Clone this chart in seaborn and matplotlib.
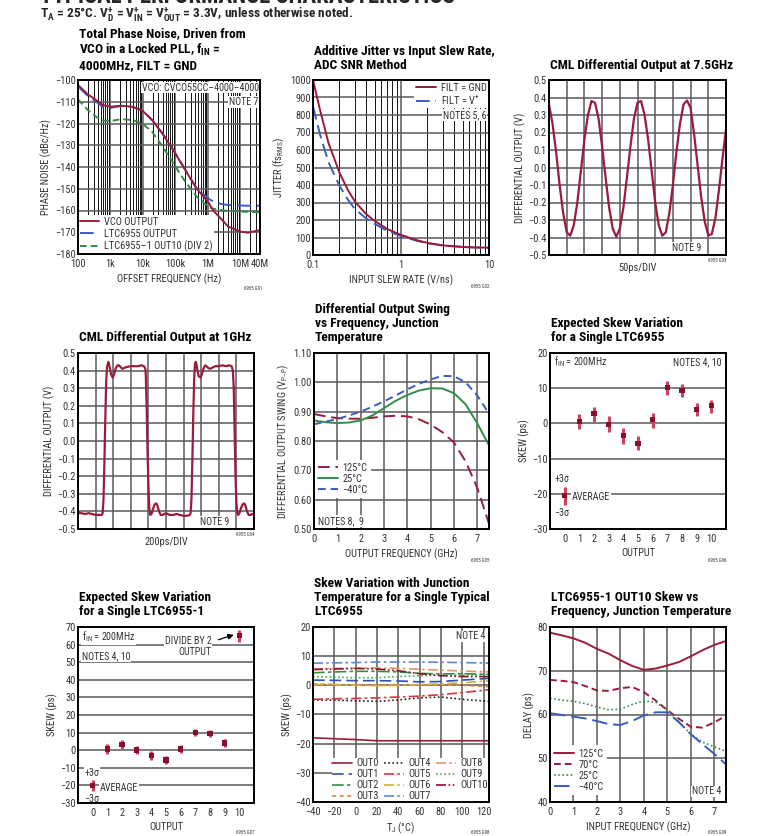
import matplotlib
matplotlib.use("Agg")
import matplotlib.pyplot as plt
import matplotlib.ticker as mticker
from matplotlib import font_manager
import seaborn as sns

# ---------------- data ----------------
# G01 total phase noise
pn_freq = [100, 200, 360, 580, 1e3, 2.1e3, 4.7e3, 9.6e3, 1.9e4, 3.9e4, 9.2e4, 2e5,
           4.5e5, 1e6, 1.45e6, 2.6e6, 4.2e6, 1e7, 1.7e7, 4e7]
pn_vco = [-102.3, -106.6, -109.2, -111.5, -112.3, -111.8, -112.3, -114.1, -118.4, -124.5,
          -133.0, -141.4, -150.0, -155.9, -160.0, -164.0, -167.4, -169.7, -170.2, -169.0]
pn_ltc = [-103.0, -107.3, -110.0, -112.3, -112.8, -112.0, -112.3, -114.0, -118.3, -124.3,
          -132.8, -141.2, -149.8, -154.4, -155.9, -157.0, -157.5, -157.7, -157.8, -157.8]
pn_div2 = [-108.9, -113.8, -116.9, -118.6, -118.9, -118.0, -118.4, -120.0, -123.8, -130.3,
           -139.0, -146.7, -153.6, -158.2, -159.2, -159.8, -160.2, -160.5, -160.6, -160.8]

# G02 additive jitter
slew = [0.1, 0.12, 0.15, 0.2, 0.25, 0.3, 0.4, 0.5, 0.7, 1, 1.5, 2, 3, 5, 7, 10]
jit_gnd = [1000, 830, 640, 470, 370, 305, 235, 195, 148, 115, 85, 69, 55, 46, 43, 42]
jit_vp = [850, 690, 530, 395, 315, 262, 210, 178, 138, 108, 82, 67, 54, 46, 43, 42]

# G03 7.5GHz waveform (ps, V)
t75 = list(range(0, 501, 10))
v75 = [0.36, 0.25, 0.09, -0.10, -0.26, -0.37, -0.39, -0.33, -0.20, -0.02,
       0.16, 0.30, 0.38, 0.37, 0.28, 0.12, -0.06, -0.23, -0.35, -0.395,
       -0.35, -0.23, -0.06, 0.12, 0.28, 0.37, 0.38, 0.30, 0.16, -0.02,
       -0.20, -0.33, -0.39, -0.37, -0.26, -0.10, 0.09, 0.25, 0.36, 0.383,
       0.34, 0.19, 0.01, -0.17, -0.31, -0.388, -0.38, -0.29, -0.13, 0.05, 0.22]

# G04 1GHz waveform (ps, V)
t1g = [0, 20, 40, 80, 120, 160, 200, 240, 270, 280, 290, 300, 310, 320, 330, 345, 360,
       375, 395, 410, 430, 450, 465, 485, 505, 525, 550, 600, 640, 680, 720, 750, 765,
       770, 780, 790, 800, 810, 820, 835, 850, 870, 890, 905, 920, 940, 960, 980, 1000,
       1040, 1080, 1120, 1160, 1200, 1240, 1270, 1280, 1290, 1300, 1310, 1320, 1330, 1340,
       1355, 1370, 1390, 1405, 1425, 1445, 1460, 1480, 1500, 1520, 1560, 1600, 1640, 1680,
       1720, 1745, 1760, 1770, 1780, 1790, 1800, 1810, 1820, 1835, 1850, 1870, 1890, 1905,
       1920, 1940, 1960, 1980, 2000]
v1g = [-0.40, -0.41, -0.41, -0.415, -0.41, -0.415, -0.42, -0.42, -0.42, -0.41, -0.33,
       -0.12, 0.12, 0.33, 0.42, 0.45, 0.42, 0.38, 0.36, 0.38, 0.415, 0.43, 0.43, 0.42,
       0.41, 0.415, 0.42, 0.425, 0.425, 0.425, 0.43, 0.425, 0.41, 0.38, 0.20, -0.05,
       -0.25, -0.38, -0.42, -0.415, -0.39, -0.36, -0.355, -0.37, -0.40, -0.42, -0.42,
       -0.415, -0.41, -0.42, -0.42, -0.415, -0.42, -0.425, -0.425, -0.42, -0.41, -0.32,
       -0.10, 0.15, 0.35, 0.44, 0.45, 0.41, 0.37, 0.36, 0.375, 0.41, 0.43, 0.425, 0.415,
       0.41, 0.415, 0.425, 0.425, 0.43, 0.425, 0.43, 0.425, 0.40, 0.30, 0.05, -0.20,
       -0.35, -0.41, -0.42, -0.41, -0.385, -0.36, -0.355, -0.37, -0.40, -0.42, -0.42,
       -0.415, -0.42]

# G05 output swing vs frequency
sw_freq = [0, 0.5, 1, 1.5, 2, 2.5, 3, 3.5, 4, 4.5, 5, 5.5, 6, 6.5, 7, 7.5]
sw_125 = [0.892, 0.884, 0.878, 0.876, 0.876, 0.879, 0.884, 0.886, 0.884, 0.874, 0.856,
          0.830, 0.795, 0.730, 0.640, 0.518]
sw_25 = [0.870, 0.864, 0.861, 0.863, 0.870, 0.887, 0.912, 0.937, 0.957, 0.972, 0.980,
         0.979, 0.963, 0.925, 0.860, 0.785]
sw_m40 = [0.857, 0.866, 0.875, 0.887, 0.900, 0.917, 0.935, 0.955, 0.976, 0.995, 1.010,
          1.022, 1.021, 1.000, 0.955, 0.893]

# G06 / G07 skew per output (average, +3 sigma, -3 sigma)
outputs = list(range(11))
sk_avg = [-20.4, 0.6, 2.7, -0.2, -3.5, -5.6, 1.1, 10.1, 9.3, 3.9, 5.0]
sk_hi = [-18.2, 2.8, 4.8, 2.2, -1.3, -3.7, 3.0, 12.0, 11.3, 5.8, 6.7]
sk_lo = [-23.1, -1.5, 0.4, -2.4, -5.8, -7.6, -1.3, 8.0, 7.4, 2.0, 3.0]
sk1_avg = [-20.0, 0.7, 3.1, 0.1, -3.1, -5.6, 0.7, 10.2, 9.4, 4.1, 65.1]
sk1_hi = [-17.1, 3.4, 5.6, 2.6, -0.6, -3.3, 3.2, 12.2, 11.6, 6.2, 68.3]
sk1_lo = [-23.0, -2.0, 0.7, -2.4, -5.8, -7.8, -1.8, 8.1, 7.3, 2.0, 61.5]

# G08 skew vs junction temperature
tj = [-40, -20, 0, 20, 40, 60, 80, 100, 125]
out_skew = {
    "OUT0": [-18.0, -18.3, -18.6, -19.0, -19.0, -19.0, -19.0, -19.0, -19.0],
    "OUT1": [1.8, 1.7, 1.6, 1.6, 1.5, 1.2, 1.3, 1.8, 2.4],
    "OUT2": [4.3, 4.6, 4.8, 4.8, 4.6, 4.1, 3.9, 4.0, 3.8],
    "OUT3": [0.5, 0.3, 0.1, 0.0, 0.0, 0.1, 0.2, 0.0, -0.5],
    "OUT4": [-5.0, -5.1, -5.3, -5.5, -5.0, -4.3, -4.0, -4.8, -5.5],
    "OUT5": [-4.8, -4.6, -4.5, -4.3, -4.0, -3.7, -3.2, -2.5, -1.5],
    "OUT6": [0.3, 0.2, 0.0, -0.1, 0.0, 0.3, 0.5, 0.9, 1.5],
    "OUT7": [7.6, 7.7, 7.8, 8.0, 8.0, 8.0, 7.9, 7.8, 7.6],
    "OUT8": [5.6, 5.8, 5.9, 6.0, 5.8, 5.5, 5.2, 4.9, 4.6],
    "OUT9": [3.0, 2.8, 2.6, 2.6, 3.0, 3.3, 3.5, 3.5, 3.6],
    "OUT10": [5.4, 5.6, 5.8, 5.6, 5.0, 4.0, 3.3, 3.0, 3.0],
}

# G09 OUT10 delay vs frequency
dl_freq = [0, 0.5, 1, 1.5, 2, 2.5, 3, 3.5, 4, 4.5, 5, 5.5, 6, 6.5, 7, 7.5]
dl_125 = [78.7, 78.1, 77.4, 76.4, 75.0, 73.9, 72.4, 71.1, 70.2, 70.5, 71.2, 72.0, 73.3,
          74.7, 75.9, 76.8]
dl_70 = [67.9, 67.7, 67.4, 66.5, 65.5, 65.4, 66.0, 66.3, 65.1, 63.2, 61.0, 59.0, 57.2,
         57.0, 58.2, 59.7]
dl_25 = [63.7, 63.3, 63.0, 62.5, 61.7, 61.1, 61.2, 62.3, 63.1, 62.8, 61.0, 58.3, 55.5,
         53.7, 52.6, 51.6]
dl_m40 = [60.3, 59.9, 59.5, 59.1, 58.5, 57.8, 57.6, 58.5, 59.8, 60.5, 60.5, 58.2, 55.5,
          53.2, 51.0, 48.6]

# ---------------- style ----------------
sns.set_style("white")
fl = font_manager.fontManager.ttflist
names = {f.name for f in fl}
if "Liberation Sans Narrow" in names:
    FAM, STRETCH, K = "Liberation Sans Narrow", "normal", 1.0
elif "Roboto Condensed" in names:
    FAM, STRETCH, K = "Roboto Condensed", "normal", 1.0
elif any(f.name == "DejaVu Sans" and "condensed" in str(f.stretch) for f in fl):
    FAM, STRETCH, K = "DejaVu Sans", "condensed", 0.93
else:
    FAM, STRETCH, K = "Liberation Sans", "normal", 0.86
plt.rcParams["font.family"] = [FAM, "DejaVu Sans"]
plt.rcParams["font.stretch"] = STRETCH
plt.rcParams["axes.unicode_minus"] = True

RED = "#9b1b3a"
BLUE = "#3b5cc0"
GREEN = "#2f8f47"
GRID = "#5a5a5a"
TXT = "#333333"
FS = 7.5 * K     # ticks, axis labels, legends
NS = 7.2 * K     # notes inside the plots
TS = 9.6 * K     # chart titles

W, H = 764, 836
fig = plt.figure(figsize=(W / 100, H / 100), dpi=100)


def box(l, t, r, b):
    return fig.add_axes([l / W, 1 - b / H, (r - l) / W, (b - t) / H])


def frame(ax, gx=True, gy=True):
    for s in ax.spines.values():
        s.set_visible(True)
        s.set_linewidth(1.4)
        s.set_color("black")
        s.set_zorder(6)
    ax.tick_params(which="both", length=0, labelsize=FS, labelcolor=TXT)
    ax.tick_params(axis="x", pad=3.5)
    ax.tick_params(axis="y", pad=1.5)
    ax.set_axisbelow(True)
    if gx:
        ax.grid(True, axis="x", which="major", color=GRID, lw=1.1)
    if gy:
        ax.grid(True, axis="y", which="major", color=GRID, lw=1.1)
    ax.xaxis.label.set_color(TXT)
    ax.yaxis.label.set_color(TXT)
    ax.xaxis.label.set_size(FS)
    ax.yaxis.label.set_size(FS)


def title(ax, txt, bottom_px):
    fig.text(ax.get_position().x0 + 1 / W, 1 - bottom_px / H, txt, ha="left", va="bottom",
             fontsize=TS, fontweight="bold", linespacing=1.12, color="black")


def code(txt, x, y):
    fig.text(x / W, 1 - y / H, txt, ha="right", va="center", fontsize=3.5, color=TXT)


def note(ax, txt, x, y, ha="left", va="center", trans=True):
    ax.text(x, y, txt, transform=ax.transAxes if trans else ax.transData, ha=ha, va=va,
            fontsize=NS, color=TXT, bbox=dict(fc="white", ec="none", pad=0.6), zorder=4)


def fmt(d):
    def f(v, pos):
        s = f"{v:.{d}f}"
        if float(s) == 0:
            s = s.lstrip("-")
        return s.replace("-", "\u2212")
    return mticker.FuncFormatter(f)


def legend(ax, **kw):
    opts = dict(fontsize=FS, frameon=True, facecolor="white", edgecolor="none",
                framealpha=1, fancybox=False, labelcolor=TXT, borderpad=0.3,
                labelspacing=0.2, handlelength=1.9, handletextpad=0.45)
    opts.update(kw)
    return ax.legend(**opts)


# page header (cut off at the top) and conditions
fig.text(40 / W, 1 - 3 / H, "TYPICAL PERFORMANCE CHARACTERISTICS", ha="left", va="baseline",
         fontsize=16.5 * K, fontweight="bold")
fig.text(40 / W, 1 - 14.5 / H,
         r"T$_\mathregular{A}$ = 25°C. V$_\mathregular{D}^\mathregular{+}$ = "
         r"V$_\mathregular{IN}^\mathregular{+}$ = V$_\mathregular{OUT}^\mathregular{+}$ = 3.3V, "
         "unless otherwise noted.", ha="left", va="center", fontsize=TS, fontweight="bold")

# ---- G01 phase noise ----
ax = box(78, 80, 260, 254)
sns.lineplot(x=pn_freq, y=pn_vco, ax=ax, color=RED, lw=1.4, label="VCO OUTPUT", zorder=3)
sns.lineplot(x=pn_freq, y=pn_ltc, ax=ax, color=BLUE, lw=1.4, ls=(0, (7, 3)),
             label="LTC6955 OUTPUT", zorder=2)
sns.lineplot(x=pn_freq, y=pn_div2, ax=ax, color=GREEN, lw=1.4, ls=(0, (3.5, 2)),
             label="LTC6955\u20131 OUT10 (DIV 2)", zorder=2)
ax.set_xscale("log")
ax.set_xlim(100, 4e7)
ax.set_ylim(-180, -100)
ax.set_yticks(range(-180, -99, 10))
ax.set_xticks([1e2, 1e3, 1e4, 1e5, 1e6, 1e7, 4e7])
ax.set_xticklabels(["100", "1k", "10k", "100k", "1M", "10M", "40M"])
ax.xaxis.set_minor_locator(mticker.LogLocator(base=10, subs=range(2, 10), numticks=30))
ax.xaxis.set_minor_formatter(mticker.NullFormatter())
frame(ax)
ax.grid(True, axis="x", which="minor", color="#111111", lw=0.7)
ax.set_xlabel("OFFSET FREQUENCY (Hz)", labelpad=3)
ax.set_ylabel("PHASE NOISE (dBc/Hz)", labelpad=2)
legend(ax, loc="lower left", borderaxespad=0.0, borderpad=0.15)
note(ax, "VCO: CVCO55CC\u20134000\u20134000", 0.995, 0.985, ha="right", va="top")
note(ax, "NOTE 7", 0.99, 0.874, ha="right")
title(ax, "Total Phase Noise, Driven from\nVCO in a Locked PLL, f$_\\mathregular{IN}$ =\n"
          "4000MHz, FILT = GND", 72)
code("6955 G01", 262, 288)

# ---- G02 jitter ----
ax = box(313, 80, 489, 255)
sns.lineplot(x=slew, y=jit_gnd, ax=ax, color=RED, lw=1.4, label="FILT = GND", zorder=3)
sns.lineplot(x=slew, y=jit_vp, ax=ax, color=BLUE, lw=1.4, ls=(0, (7, 3)),
             label=r"FILT = V$^\mathregular{+}$", zorder=2)
ax.set_xscale("log")
ax.set_xlim(0.1, 10)
ax.set_ylim(0, 1000)
ax.set_yticks(range(0, 1001, 100))
ax.set_xticks([0.1, 1, 10])
ax.set_xticklabels(["0.1", "1", "10"])
ax.xaxis.set_minor_locator(mticker.LogLocator(base=10, subs=range(2, 10), numticks=30))
ax.xaxis.set_minor_formatter(mticker.NullFormatter())
frame(ax)
ax.grid(True, axis="x", which="minor", color="#111111", lw=0.7)
ax.set_xlabel("INPUT SLEW RATE (V/ns)", labelpad=3)
ax.set_ylabel("JITTER (fs$_\\mathregular{RMS}$)", labelpad=2)
legend(ax, loc="upper right", borderaxespad=0.1, labelspacing=0.1, borderpad=0.15)
note(ax, "NOTES 5, 6", 0.985, 0.80, ha="right")
title(ax, "Additive Jitter vs Input Slew Rate,\nADC SNR Method", 72)
code("6955 G02", 489, 286)

# ---- G03 7.5GHz ----
ax = box(549, 80, 726, 255)
sns.lineplot(x=t75, y=v75, ax=ax, color=RED, lw=1.6)
ax.set_xlim(0, 500)
ax.set_ylim(-0.5, 0.5)
ax.set_xticks(range(0, 501, 50))
ax.set_xticklabels([])
ax.set_yticks([i / 10 for i in range(-5, 6)])
ax.yaxis.set_major_formatter(fmt(1))
frame(ax)
ax.set_xlabel("50ps/DIV", labelpad=2)
ax.set_ylabel("DIFFERENTIAL OUTPUT (V)", labelpad=2)
note(ax, "NOTE 9", 0.86, 0.04, ha="right")
title(ax, "CML Differential Output at 7.5GHz", 72)
code("6955 G03", 726, 261)

# ---- G04 1GHz ----
ax = box(78, 353, 254, 529)
sns.lineplot(x=t1g, y=v1g, ax=ax, color=RED, lw=1.6)
ax.set_xlim(0, 2000)
ax.set_ylim(-0.5, 0.5)
ax.set_xticks(range(0, 2001, 200))
ax.set_xticklabels([])
ax.set_yticks([i / 10 for i in range(-5, 6)])
ax.yaxis.set_major_formatter(fmt(1))
frame(ax)
ax.set_xlabel("200ps/DIV", labelpad=2)
ax.set_ylabel("DIFFERENTIAL OUTPUT (V)", labelpad=2)
note(ax, "NOTE 9", 0.86, 0.04, ha="right")
title(ax, "CML Differential Output at 1GHz", 344)
code("6955 G04", 254, 534)

# ---- G05 swing ----
ax = box(314, 353, 489, 529)
sns.lineplot(x=sw_freq, y=sw_125, ax=ax, color=RED, lw=1.4, ls=(0, (6, 3)), label="125°C")
sns.lineplot(x=sw_freq, y=sw_25, ax=ax, color=GREEN, lw=1.4, label="25°C")
sns.lineplot(x=sw_freq, y=sw_m40, ax=ax, color=BLUE, lw=1.4, ls=(0, (4, 2.5)),
             label="\u221240°C")
ax.set_xlim(0, 7.5)
ax.set_ylim(0.5, 1.1)
ax.set_xticks(range(0, 8))
ax.set_yticks([0.5, 0.6, 0.7, 0.8, 0.9, 1.0, 1.1])
ax.yaxis.set_major_formatter(fmt(2))
frame(ax)
ax.set_xlabel("OUTPUT FREQUENCY (GHz)", labelpad=3)
ax.set_ylabel("DIFFERENTIAL OUTPUT SWING (V$_\\mathregular{P\u2013P}$)", labelpad=2)
legend(ax, loc="lower left", bbox_to_anchor=(0.0, 0.17), borderaxespad=0.1,
       labelspacing=0.1)
note(ax, "NOTES 8,  9", 0.025, 0.045)
title(ax, "Differential Output Swing\nvs Frequency, Junction\nTemperature", 344)
code("6955 G05", 489, 560)


# ---- G06 / G07 skew per output ----
def skew_plot(ax, avg, hi, lo):
    ax.vlines(outputs, lo, hi, color="#c8465f", lw=2.2, zorder=2)
    sns.scatterplot(x=outputs, y=avg, ax=ax, marker="s", s=14, color="#8a0f2c",
                    edgecolor="none", zorder=3)
    ax.set_xlim(-1, 11)
    ax.set_xticks(outputs)
    frame(ax, gx=False)
    ax.set_xlabel("OUTPUT", labelpad=3)
    ax.set_ylabel("SKEW (ps)", labelpad=2)


ax = box(550, 353, 726, 529)
skew_plot(ax, sk_avg, sk_hi, sk_lo)
ax.set_ylim(-30, 20)
ax.set_yticks(range(-30, 21, 10))
note(ax, "f$_\\mathregular{IN}$ = 200MHz", 0.025, 0.95)
note(ax, "NOTES 4, 10", 0.975, 0.95, ha="right")
note(ax, "+3\u03c3", -0.15, -15.8, ha="center", trans=False)
note(ax, "AVERAGE", 0.5, -20.9, trans=False)
note(ax, "\u22123\u03c3", -0.2, -25.5, ha="center", trans=False)
title(ax, "Expected Skew Variation\nfor a Single LTC6955", 344)
code("6955 G06", 726, 560)

ax = box(78, 627, 254, 803)
skew_plot(ax, sk1_avg, sk1_hi, sk1_lo)
ax.set_ylim(-30, 70)
ax.set_yticks(range(-30, 71, 10))
note(ax, "f$_\\mathregular{IN}$ = 200MHz", 0.02, 0.945)
note(ax, "NOTES 4, 10", 0.02, 0.835)
note(ax, "DIVIDE BY 2\nOUTPUT", 8.1, 58.9, ha="right", trans=False)
ax.annotate("", xy=(9.8, 66), xytext=(8.4, 62.3),
            arrowprops=dict(arrowstyle="-|>", color="black", lw=0.9, mutation_scale=8))
note(ax, "+3\u03c3", -0.05, -13, ha="center", trans=False)
note(ax, "AVERAGE", 0.5, -21.5, trans=False)
note(ax, "\u22123\u03c3", -0.05, -27.7, ha="center", trans=False)
title(ax, "Expected Skew Variation\nfor a Single LTC6955-1", 618)
code("6955 G07", 254, 833)

# ---- G08 skew vs temperature ----
ax = box(313, 627, 489, 802)
styles = {
    "OUT0": (RED, "-"),
    "OUT1": ("#3050b0", (0, (7, 3))),
    "OUT2": (GREEN, (0, (7, 2, 2, 2))),
    "OUT3": ("#e08a3a", (0, (2.5, 2))),
    "OUT4": ("#222222", (0, (1, 1.5))),
    "OUT5": ("#e03040", (0, (6, 2, 1.5, 2))),
    "OUT6": ("#d4b040", (0, (6, 2, 1.5, 2))),
    "OUT7": ("#5a8ad8", (0, (6, 2, 1.5, 2))),
    "OUT8": ("#e0956a", (0, (6, 2, 1.5, 2))),
    "OUT9": ("#40b040", (0, (1, 1.5))),
    "OUT10": ("#8b1030", (0, (6, 1.5, 1, 1.5, 1, 1.5))),
}
for name, vals in out_skew.items():
    c, ls = styles[name]
    sns.lineplot(x=tj, y=vals, ax=ax, color=c, ls=ls, lw=1.2, label=name)
ax.set_xlim(-40, 125)
ax.set_ylim(-40, 20)
ax.set_xticks(range(-40, 121, 20))
ax.set_yticks(range(-40, 21, 10))
frame(ax)
ax.set_xlabel("T$_\\mathregular{J}$ (°C)", labelpad=3)
ax.set_ylabel("SKEW (ps)", labelpad=2)
legend(ax, loc="lower right", bbox_to_anchor=(1.0, 0.0), ncol=3, borderaxespad=0.0,
       columnspacing=0.5, labelspacing=0.1, borderpad=0.05)
note(ax, "NOTE 4", 0.98, 0.975, ha="right", va="top")
title(ax, "Skew Variation with Junction\nTemperature for a Single Typical\nLTC6955", 618)
code("6955 G08", 489, 833)

# ---- G09 OUT10 delay ----
ax = box(550, 627, 726, 802)
sns.lineplot(x=dl_freq, y=dl_125, ax=ax, color=RED, lw=1.4, label="125°C")
sns.lineplot(x=dl_freq, y=dl_70, ax=ax, color=RED, lw=1.4, ls=(0, (3.5, 2)), label="70°C")
sns.lineplot(x=dl_freq, y=dl_25, ax=ax, color=GREEN, lw=1.2, ls=(0, (1, 1.5)), label="25°C")
sns.lineplot(x=dl_freq, y=dl_m40, ax=ax, color=BLUE, lw=1.4, ls=(0, (8, 3)),
             label="\u221240°C")
ax.set_xlim(0, 7.5)
ax.set_ylim(40, 80)
ax.set_xticks(range(0, 8))
ax.set_yticks(range(40, 81, 10))
frame(ax)
ax.set_xlabel("INPUT FREQUENCY (GHz)", labelpad=3)
ax.set_ylabel("DELAY (ps)", labelpad=2)
legend(ax, loc="lower left", bbox_to_anchor=(0.0, 0.035), borderaxespad=0.1,
       labelspacing=0.1)
note(ax, "NOTE 4", 0.975, 0.06, ha="right")
title(ax, "LTC6955-1 OUT10 Skew vs\nFrequency, Junction Temperature", 618)
code("6955 G09", 726, 833)

fig.savefig("out.png", dpi=100, facecolor="white")
